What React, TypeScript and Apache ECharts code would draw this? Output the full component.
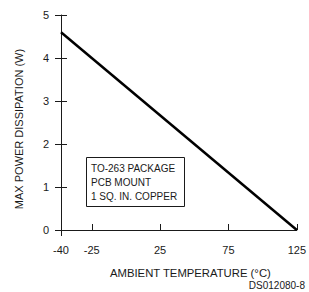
import React, { useEffect, useRef } from "react";
import * as echarts from "echarts";

// Axis drawn from the origin (labelled -40) to 125 °C
const xAxisStart = -47.5;
const xAxisEnd = 125;
const xTickValues = [-25, 25, 75, 125];
const xLabelValues = [xAxisStart, -25, 25, 75, 125];
const xLabelTexts = ["-40", "-25", "25", "75", "125"];
const yMin = 0;
const yMax = 5;
const yInterval = 1;

// Derating line: max power dissipation vs ambient temperature
const lineTemps = [xAxisStart, 125];
const linePower = [4.6, 0];

const boxLines = ["TO-263 PACKAGE", "PCB MOUNT", "1 SQ. IN. COPPER"];
const xTitle = "AMBIENT TEMPERATURE (°C)";
const yTitle = "MAX POWER DISSIPATION (W)";
const figId = "DS012080-8";

const FONT = "Liberation Sans";
const INK = "#1a1a1a";

export default function App() {
  const ref = useRef<HTMLDivElement>(null);
  useEffect(() => {
    document.body.style.margin = "0";
    if (!ref.current) return;
    const chart = echarts.init(ref.current, null, { renderer: "svg" });
    const baseY = {
      type: "value" as const,
      min: yMin,
      max: yMax,
      interval: yInterval,
      position: "left" as const,
      splitLine: { show: false },
    };
    chart.setOption({
      animation: false,
      backgroundColor: "#ffffff",
      grid: { left: 61, right: 10, top: 15, bottom: 62, containLabel: false },
      xAxis: [
        {
          type: "value",
          min: xAxisStart,
          max: xAxisEnd,
          position: "bottom",
          splitLine: { show: false },
          axisLine: { show: true, onZero: false, lineStyle: { color: INK, width: 1 } },
          axisTick: { show: true, inside: false, length: 6, customValues: [xAxisStart], lineStyle: { color: INK } },
          axisLabel: {
            customValues: xLabelValues,
            margin: 14,
            fontFamily: FONT,
            fontSize: 11,
            color: INK,
            formatter: (v: number) => {
              const i = xLabelValues.indexOf(v);
              return i >= 0 ? xLabelTexts[i] : String(v);
            },
          },
        },
        {
          type: "value",
          min: xAxisStart,
          max: xAxisEnd,
          position: "bottom",
          splitLine: { show: false },
          axisLine: { show: false, onZero: false },
          axisTick: { show: true, inside: true, length: 6, customValues: xTickValues, lineStyle: { color: INK } },
          axisLabel: { show: false },
        },
      ],
      yAxis: [
        {
          ...baseY,
          axisLine: { show: true, onZero: false, lineStyle: { color: INK, width: 1 } },
          axisTick: { show: true, inside: false, length: 6, lineStyle: { color: INK } },
          axisLabel: { margin: 12, fontFamily: FONT, fontSize: 11, color: INK },
        },
        {
          ...baseY,
          axisLine: { show: false, onZero: false },
          axisTick: { show: true, inside: true, length: 6, lineStyle: { color: INK } },
          axisLabel: { show: false },
        },
      ],
      series: [
        {
          type: "line",
          xAxisIndex: 0,
          yAxisIndex: 0,
          data: lineTemps.map((t, i) => [t, linePower[i]]),
          symbol: "none",
          clip: false,
          lineStyle: { color: "#000000", width: 2.5 },
        },
      ],
      graphic: [
        {
          type: "text",
          x: 19,
          y: 129,
          rotation: Math.PI / 2,
          style: { text: yTitle, fontFamily: FONT, fontSize: 11, fill: INK, align: "center", verticalAlign: "middle" },
        },
        {
          type: "text",
          x: 110,
          y: 273,
          style: { text: xTitle, fontFamily: FONT, fontSize: 11.3, fill: INK, align: "left", verticalAlign: "middle" },
        },
        {
          type: "text",
          x: 305,
          y: 285,
          style: { text: figId, fontFamily: FONT, fontSize: 10, fill: INK, align: "right", verticalAlign: "middle" },
        },
        {
          type: "rect",
          shape: { x: 86.5, y: 157.5, width: 98, height: 49 },
          style: { fill: "#ffffff", stroke: INK, lineWidth: 1 },
        },
        ...boxLines.map((t, i) => ({
          type: "text",
          x: 91,
          y: 168 + i * 14,
          style: { text: t, fontFamily: FONT, fontSize: 10, fill: INK, align: "left", verticalAlign: "middle" },
        })),
      ],
    });
    return () => chart.dispose();
  }, []);
  return <div ref={ref} style={{ width: 309, height: 292 }} />;
}
